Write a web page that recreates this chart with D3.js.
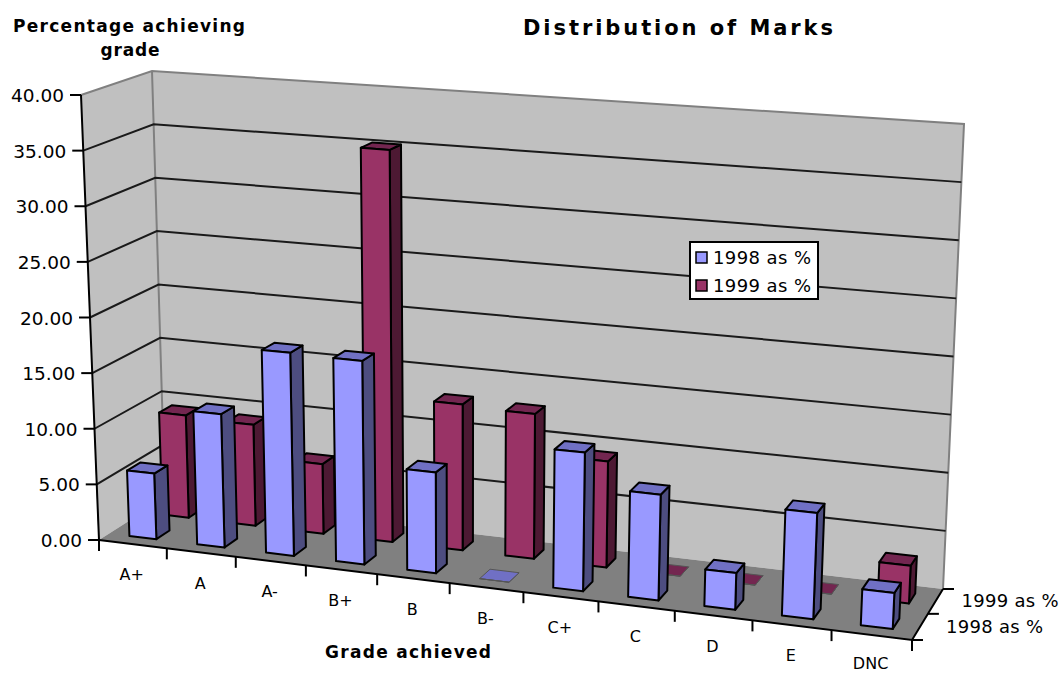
<!DOCTYPE html>
<html>
<head>
<meta charset="utf-8">
<script src="https://cdnjs.cloudflare.com/ajax/libs/d3/7.8.5/d3.min.js"></script>
<style>
  html, body { margin: 0; padding: 0; background: #fff; }
  svg { display: block; }
  text { font-family: "DejaVu Sans", sans-serif; fill: #000; }
  .bold { font-weight: bold; }
</style>
</head>
<body>
<div id="chart"></div>
<script>
const categories = ['A+', 'A', 'A-', 'B+', 'B', 'B-', 'C+', 'C', 'D', 'E', 'DNC'];
const values1998 = [5.9, 11.9, 18, 17.9, 8.8, 0, 11.9, 9, 3.1, 8.9, 3];
const values1999 = [9.4, 9.2, 6.3, 35.2, 13, 12.8, 9.3, 0, 0, 0, 3.2];
const seriesNames = ['1998 as %', '1999 as %'];
const valueTicks = [0, 5, 10, 15, 20, 25, 30, 35, 40];

const width = 1059, height = 673;

const colors = {
  '1998 as %': { front: '#9999ff', side: '#4d4d80', top: '#7070c4' },
  '1999 as %': { front: '#993366', side: '#4d1933', top: '#732650' }
};

const svg = d3.select('#chart').append('svg')
  .attr('width', width)
  .attr('height', height);

// maps the unit square on to a quad, so the floor gets real perspective
const quad = (p0, p1, p2, p3) => {
  const dx1 = p1[0] - p2[0], dx2 = p3[0] - p2[0], sx = p0[0] - p1[0] + p2[0] - p3[0];
  const dy1 = p1[1] - p2[1], dy2 = p3[1] - p2[1], sy = p0[1] - p1[1] + p2[1] - p3[1];
  const det = dx1 * dy2 - dx2 * dy1;
  const g = (sx * dy2 - dx2 * sy) / det;
  const h = (dx1 * sy - sx * dy1) / det;
  const a = p1[0] - p0[0] + g * p1[0], b = p3[0] - p0[0] + h * p3[0];
  const d = p1[1] - p0[1] + g * p1[1], e = p3[1] - p0[1] + h * p3[1];
  return (u, v) => {
    const w = g * u + h * v + 1;
    return [(a * u + b * v + p0[0]) / w, (d * u + e * v + p0[1]) / w];
  };
};

// front left, front right, back right, back left
const floorQuad = quad([99, 540], [912, 640], [943, 589], [165, 498]);
const topQuad = quad([81, 95], [935, 153.6], [964, 124], [152, 71]);

const zScale = d3.scaleLinear().domain([0, 40]).range([0, 1]);
const uScale = d3.scaleBand().domain(categories).range([0, 1]).paddingInner(0.6).paddingOuter(0.3);
const vScale = d3.scaleBand().domain(seriesNames).range([0, 1]).paddingInner(0.6).paddingOuter(0.3);

const project = (u, v, value) => {
  const a = floorQuad(u, v), b = topQuad(u, v), t = zScale(value);
  return [a[0] + (b[0] - a[0]) * t, a[1] + (b[1] - a[1]) * t];
};

const line = d3.line();
const poly = pts => line(pts) + 'Z';

// walls and floor
const walls = svg.append('g');

walls.append('path')
  .attr('d', poly([project(0, 0, 0), project(0, 0, 40), project(0, 1, 40), project(0, 1, 0)]))
  .attr('fill', '#c0c0c0');

walls.append('path')
  .attr('d', poly([project(0, 1, 0), project(0, 1, 40), project(1, 1, 40), project(1, 1, 0)]))
  .attr('fill', '#c0c0c0');

walls.append('path')
  .attr('d', poly([project(0, 0, 0), project(1, 0, 0), project(1, 1, 0), project(0, 1, 0)]))
  .attr('fill', '#808080');

walls.append('path')
  .attr('d', line([project(0, 0, 40), project(0, 1, 40), project(1, 1, 40), project(1, 1, 0)]))
  .attr('fill', 'none')
  .attr('stroke', '#808080')
  .attr('stroke-width', 2);

walls.append('path')
  .attr('d', line([project(0, 1, 40), project(0, 1, 0)]))
  .attr('stroke', '#808080')
  .attr('stroke-width', 2);

// gridlines
walls.selectAll('.grid')
  .data(valueTicks.filter(d => d > 0 && d < 40))
  .enter()
  .append('path')
  .attr('class', 'grid')
  .attr('d', d => line([project(0, 0, d), project(0, 1, d), project(1, 1, d)]))
  .attr('fill', 'none')
  .attr('stroke', '#1a1a1a')
  .attr('stroke-width', 2);

// axes
const axes = svg.append('g').attr('stroke', '#000').attr('stroke-width', 2);
const p0 = project(0, 0, 0);

axes.append('path')
  .attr('d', line([project(0, 0, 40), p0, [p0[0], p0[1] + 11]]));

axes.append('path')
  .attr('d', line([p0, project(1, 0, 0), project(1, 1, 0)]))
  .attr('fill', 'none');

axes.selectAll('.value-tick')
  .data(valueTicks)
  .enter()
  .append('path')
  .attr('class', 'value-tick')
  .attr('d', d => {
    const p = project(0, 0, d);
    return line([[p[0] - 11, p[1]], p]);
  });

const catStep = uScale.step();

axes.selectAll('.cat-tick')
  .data(d3.range(1, categories.length + 1))
  .enter()
  .append('path')
  .attr('class', 'cat-tick')
  .attr('d', i => {
    const p = project(i * catStep, 0, 0);
    return line([p, [p[0], p[1] + 11]]);
  });

axes.selectAll('.series-tick')
  .data([0, 0.5, 1])
  .enter()
  .append('path')
  .attr('class', 'series-tick')
  .attr('d', d => {
    const p = project(1, d, 0);
    return line([p, [p[0] + 11, p[1]]]);
  });

// bars, back series first so the front one sits over it
const bars = svg.append('g');

const drawBar = (category, series, value) => {
  const c = colors[series];
  const u0 = uScale(category), u1 = u0 + uScale.bandwidth();
  const v0 = vScale(series), v1 = v0 + vScale.bandwidth();
  const faces = [
    [c.side, [project(u1, v0, 0), project(u1, v1, 0), project(u1, v1, value), project(u1, v0, value)]],
    [c.top, [project(u0, v0, value), project(u1, v0, value), project(u1, v1, value), project(u0, v1, value)]],
    [c.front, [project(u0, v0, 0), project(u1, v0, 0), project(u1, v0, value), project(u0, v0, value)]]
  ];
  faces.forEach(f => {
    bars.append('path')
      .attr('d', poly(f[1]))
      .attr('fill', f[0])
      .attr('stroke', value > 0 ? '#000' : '#555')
      .attr('stroke-width', value > 0 ? 2 : 1)
      .attr('stroke-linejoin', 'round');
  });
};

categories.forEach((d, i) => drawBar(d, seriesNames[1], values1999[i]));
categories.forEach((d, i) => drawBar(d, seriesNames[0], values1998[i]));

// labels
const labels = svg.append('g');

labels.selectAll('.value-label')
  .data(valueTicks)
  .enter()
  .append('text')
  .attr('class', 'value-label')
  .attr('x', d => project(0, 0, d)[0] - 17)
  .attr('y', d => project(0, 0, d)[1] + 7)
  .attr('text-anchor', 'end')
  .style('font-size', '18.5px')
  .text(d => d.toFixed(2));

labels.selectAll('.cat-label')
  .data(categories)
  .enter()
  .append('text')
  .attr('class', 'cat-label')
  .attr('x', (d, i) => project((i + 0.5) * catStep, 0, 0)[0] - 1)
  .attr('y', (d, i) => Math.min(project((i + 0.5) * catStep, 0, 0)[1] + 36, 669))
  .attr('text-anchor', 'middle')
  .style('font-size', '16px')
  .text(d => d);

labels.selectAll('.series-label')
  .data(seriesNames)
  .enter()
  .append('text')
  .attr('class', 'series-label')
  .attr('x', d => project(1, vScale(d) + vScale.bandwidth() / 2, 0)[0] + 26)
  .attr('y', d => project(1, vScale(d) + vScale.bandwidth() / 2, 0)[1] + 6)
  .style('font-size', '18px')
  .attr('textLength', 97)
  .attr('lengthAdjust', 'spacing')
  .text(d => d);

const boldText = (text, x, y, size, len) => labels.append('text')
  .attr('class', 'bold')
  .attr('x', x - len / 2)
  .attr('y', y)
  .attr('textLength', len)
  .attr('lengthAdjust', 'spacing')
  .style('font-size', size + 'px')
  .text(text);

boldText('Distribution of Marks', 678, 35, 21, 310);
boldText('Percentage achieving', 129, 32, 17, 232);
boldText('grade', 130, 56, 17, 59);
boldText('Grade achieved', 408, 658, 17, 166);

// legend
const legend = svg.append('g');

legend.append('rect')
  .attr('x', 690)
  .attr('y', 242)
  .attr('width', 128)
  .attr('height', 57)
  .attr('fill', '#fff')
  .attr('stroke', '#000')
  .attr('stroke-width', 2);

seriesNames.forEach((d, i) => {
  legend.append('rect')
    .attr('x', 696)
    .attr('y', 252 + i * 28)
    .attr('width', 11)
    .attr('height', 11)
    .attr('fill', colors[d].front)
    .attr('stroke', '#000')
    .attr('stroke-width', 1.5);

  legend.append('text')
    .attr('x', 713)
    .attr('y', 264 + i * 28)
    .attr('textLength', 98)
    .attr('lengthAdjust', 'spacing')
    .style('font-size', '18px')
    .text(d);
});
</script>
</body>
</html>
